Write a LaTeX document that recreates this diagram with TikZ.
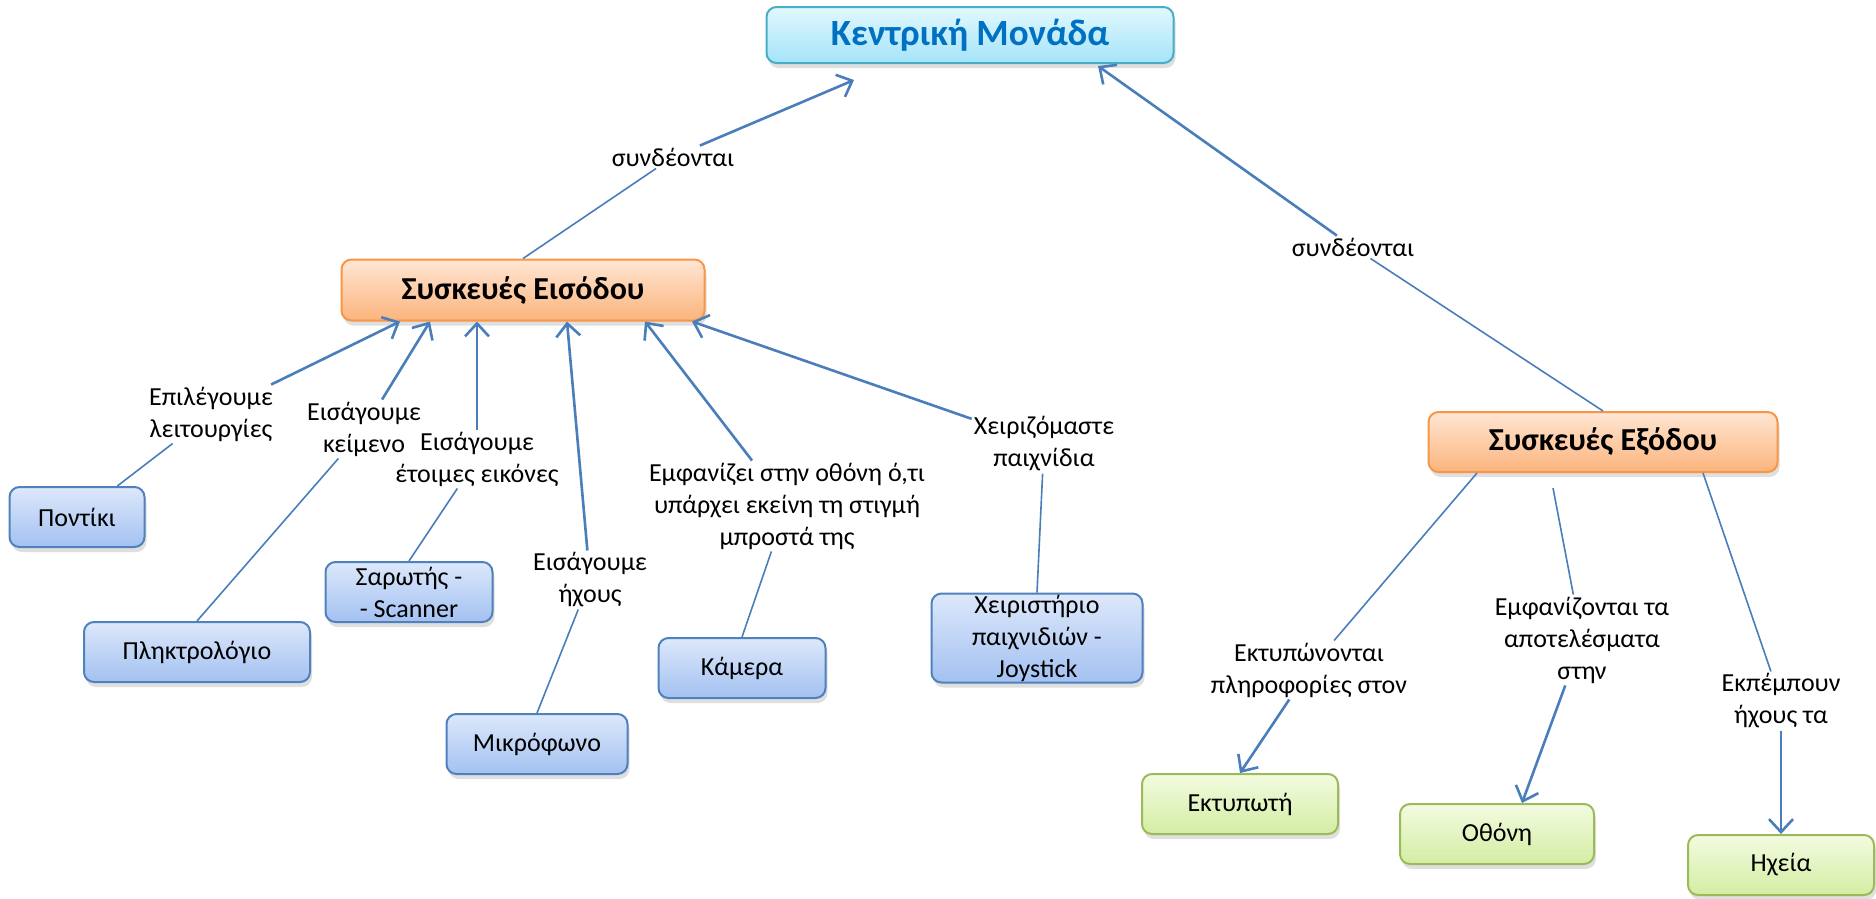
\documentclass[tikz,border=0pt]{standalone}
\usepackage{fontspec}
\setmainfont{Carlito}
\usetikzlibrary{arrows.meta,shadows,calc}
\definecolor{linkblue}{HTML}{4A7EBB}
\definecolor{titleblue}{HTML}{0070C0}
\definecolor{cyanline}{HTML}{4BACC6}
\definecolor{cyantop}{HTML}{E2F8FE}
\definecolor{cyanbottom}{HTML}{A4E4F9}
\definecolor{orangeline}{HTML}{F79646}
\definecolor{orangetop}{HTML}{FFE6D4}
\definecolor{orangebottom}{HTML}{FBB47C}
\definecolor{blueline}{HTML}{4F81BD}
\definecolor{bluetop}{HTML}{DDE8FB}
\definecolor{bluebottom}{HTML}{A3C1F1}
\definecolor{greenline}{HTML}{9BBB59}
\definecolor{greentop}{HTML}{F3FBE0}
\definecolor{greenbottom}{HTML}{D3EDA3}

\begin{document}
\begin{tikzpicture}[x=1pt, y=-1pt,
    box/.style={draw, rounded corners=10pt, line width=2pt, inner sep=0pt, align=center,
        drop shadow={opacity=0.25, shadow xshift=2pt, shadow yshift=-5pt}},
    mainbox/.style={box, draw=cyanline, top color=cyantop, bottom color=cyanbottom,
        text=titleblue, font=\fontsize{37}{40}\selectfont\bfseries},
    groupbox/.style={box, draw=orangeline, top color=orangetop, bottom color=orangebottom,
        font=\fontsize{32}{36}\selectfont\bfseries},
    inbox/.style={box, draw=blueline, top color=bluetop, bottom color=bluebottom,
        font=\fontsize{26}{32}\selectfont, minimum height=60},
    outbox/.style={box, draw=greenline, top color=greentop, bottom color=greenbottom,
        font=\fontsize{26}{32}\selectfont, minimum height=60},
    linkname/.style={align=center, inner sep=2pt, font=\fontsize{26}{32}\selectfont},
    link/.style={draw=linkblue, line width=1.6pt},
    arrowlink/.style={draw=linkblue, line width=2.6pt, -{Straight Barb[length=13pt,width=24pt,line width=2.6pt]}}]

    \useasboundingbox (0,0) rectangle (1876,898);

    % Central unit
    \node (kentriki) [mainbox, minimum width=407, minimum height=56] at (970,35) {Κεντρική Μονάδα};

    % Input and output devices
    \node (eisodou) [groupbox, minimum width=363, minimum height=61] at (523,290) {Συσκευές Εισόδου};
    \node (exodou) [groupbox, minimum width=349, minimum height=60] at (1603,442) {Συσκευές Εξόδου};

    % Input devices
    \node (pontiki) [inbox, minimum width=135] at (77,517) {Ποντίκι};
    \node (plktr) [inbox, minimum width=226] at (197,652) {Πληκτρολόγιο};
    \node (sarotis) [inbox, minimum width=167] at (409,592) {Σαρωτής -\\- Scanner};
    \node (mikro) [inbox, minimum width=181] at (537,744) {Μικρόφωνο};
    \node (kamera) [inbox, minimum width=167] at (742,668) {Κάμερα};
    \node (joystick) [inbox, minimum width=211, minimum height=89] at (1037,638)
        {Χειριστήριο\\παιχνιδιών -\\Joystick};

    % Output devices
    \node (ektyp) [outbox, minimum width=196] at (1240,804) {Εκτυπωτή};
    \node (othoni) [outbox, minimum width=194] at (1497,834) {Οθόνη};
    \node (ixeia) [outbox, minimum width=186] at (1781,865) {Ηχεία};

    % Link names
    \node (synA) [linkname] at (673,157) {συνδέονται};
    \node (synB) [linkname] at (1353,247) {συνδέονται};
    \node (epil) [linkname] at (211,414) {Επιλέγουμε\\λειτουργίες};
    \node (keim) [linkname] at (364,429) {Εισάγουμε\\κείμενο};
    \node (eik) [linkname] at (477,459) {Εισάγουμε\\έτοιμες εικόνες};
    \node (ixous) [linkname] at (590,580) {Εισάγουμε\\ήχους};
    \node (emf) [linkname] at (787,506) {Εμφανίζει στην οθόνη ό,τι\\υπάρχει εκείνη τη στιγμή\\μπροστά της};
    \node (paix) [linkname] at (1044,444) {Χειριζόμαστε\\παιχνίδια};
    \node (ektyp-l) [linkname] at (1309,670) {Εκτυπώνονται\\πληροφορίες στον};
    \node (emf-l) [linkname] at (1582,640) {Εμφανίζονται τα\\αποτελέσματα\\στην};
    \node (ekp-l) [linkname] at (1781,701) {Εκπέμπουν\\ήχους τα};

    % Groups to central unit
    \path[link] (eisodou.north) -- (synA);
    \path[arrowlink] (synA) -- ($(kentriki.south)+(-116,16)$);
    \path[link] (exodou.north) -- (synB);
    \path[arrowlink] (synB) -- ($(kentriki.south)+(128,2)$);

    % Input devices to their group
    \path[link] (pontiki) -- (epil);
    \path[arrowlink] (epil) -- ($(eisodou.south)+(-123,0)$);
    \path[link] (plktr.north) -- (keim);
    \path[arrowlink] (keim) -- ($(eisodou.south)+(-93,0)$);
    \path[link] (sarotis.north) -- (eik);
    \path[arrowlink] (eik) -- ($(eisodou.south)+(-46,0)$);
    \path[link] (mikro.north) -- (ixous);
    \path[arrowlink] (ixous) -- ($(eisodou.south)+(44,0)$);
    \path[link] (kamera.north) -- (emf);
    \path[arrowlink] (emf) -- ($(eisodou.south)+(122,0)$);
    \path[link] (joystick.north) -- (paix);
    \path[arrowlink] (paix) -- ($(eisodou.south)+(169,0)$);

    % Output group to its devices
    \path[link] ($(exodou.south)+(-126,0)$) -- (ektyp-l);
    \path[arrowlink] (ektyp-l) -- (ektyp.north);
    \path[link] ($(exodou.south)+(-50,15)$) -- (emf-l);
    \path[arrowlink] (emf-l) -- ($(othoni.north)+(25,0)$);
    \path[link] ($(exodou.south)+(100,0)$) -- (ekp-l);
    \path[arrowlink] (ekp-l) -- (ixeia.north);
\end{tikzpicture}
\end{document}
